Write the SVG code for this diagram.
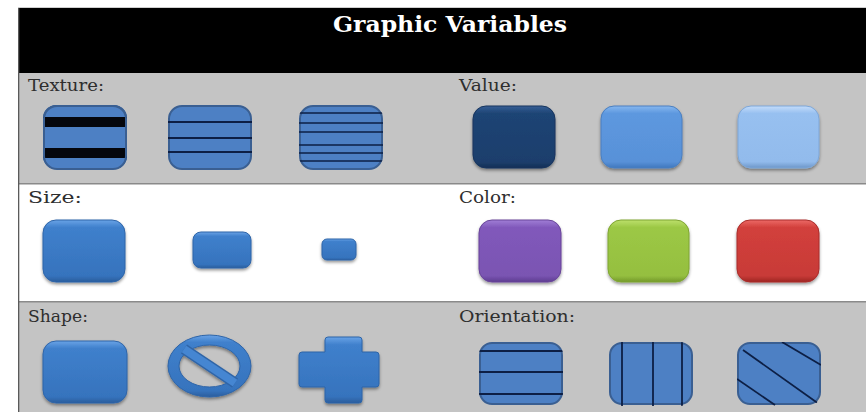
<svg xmlns="http://www.w3.org/2000/svg" width="866" height="412" viewBox="0 0 866 412">
<style>
.lbl{font-family:"DejaVu Serif","Liberation Serif",serif;font-size:17px;fill:#2e2e2e}
.title{font-family:"DejaVu Serif","Liberation Serif",serif;font-size:22px;font-weight:bold;fill:#ffffff}
.tex{fill:#4d80c4;stroke:#3a5f92;stroke-width:2}
.ln{stroke:#0d1f45;fill:none}
.sh{filter:url(#shadow)}
</style>
<defs>
<filter id="shadow" x="-20%" y="-20%" width="140%" height="150%">
<feDropShadow dx="0" dy="2" stdDeviation="1.8" flood-color="#000" flood-opacity="0.4"/>
</filter>
<linearGradient id="gBlue" x1="0" y1="0" x2="0" y2="1">
<stop offset="0" stop-color="#6aa3e6"/><stop offset="0.12" stop-color="#3f80cc"/><stop offset="0.9" stop-color="#3673bd"/><stop offset="1" stop-color="#2a5d9c"/>
</linearGradient>
<linearGradient id="gNavy" x1="0" y1="0" x2="0" y2="1">
<stop offset="0" stop-color="#345f96"/><stop offset="0.12" stop-color="#1f4474"/><stop offset="0.9" stop-color="#1c3e6c"/><stop offset="1" stop-color="#142f55"/>
</linearGradient>
<linearGradient id="gMid" x1="0" y1="0" x2="0" y2="1">
<stop offset="0" stop-color="#86b7ef"/><stop offset="0.12" stop-color="#5d98df"/><stop offset="0.9" stop-color="#5891d8"/><stop offset="1" stop-color="#3f77bd"/>
</linearGradient>
<linearGradient id="gLight" x1="0" y1="0" x2="0" y2="1">
<stop offset="0" stop-color="#c4dcfa"/><stop offset="0.12" stop-color="#97c0f0"/><stop offset="0.9" stop-color="#92bbec"/><stop offset="1" stop-color="#6c96c8"/>
</linearGradient>
<linearGradient id="gPurple" x1="0" y1="0" x2="0" y2="1">
<stop offset="0" stop-color="#a07ed6"/><stop offset="0.12" stop-color="#8159bb"/><stop offset="0.9" stop-color="#7a54b2"/><stop offset="1" stop-color="#5e3d90"/>
</linearGradient>
<linearGradient id="gGreen" x1="0" y1="0" x2="0" y2="1">
<stop offset="0" stop-color="#bde06c"/><stop offset="0.12" stop-color="#9cc845"/><stop offset="0.9" stop-color="#95bf40"/><stop offset="1" stop-color="#74992a"/>
</linearGradient>
<linearGradient id="gRed" x1="0" y1="0" x2="0" y2="1">
<stop offset="0" stop-color="#ec6a66"/><stop offset="0.12" stop-color="#d2403c"/><stop offset="0.9" stop-color="#c83a37"/><stop offset="1" stop-color="#9e2624"/>
</linearGradient>
<clipPath id="clipBox" clipPathUnits="userSpaceOnUse">
<rect x="0" y="0" width="84" height="64" rx="13"/>
</clipPath>
</defs>

<!-- backgrounds -->
<rect x="0" y="0" width="866" height="412" fill="#ffffff"/>
<rect x="18" y="7" width="848" height="1" fill="#cfcfcf"/>
<rect x="18" y="8" width="848" height="65" fill="#000000"/>
<rect x="18" y="73" width="848" height="110" fill="#c4c4c4"/>
<rect x="18" y="183" width="848" height="1.5" fill="#8a8a8a"/>
<rect x="18" y="302" width="848" height="110" fill="#c4c4c4"/>
<rect x="18" y="301" width="848" height="1.5" fill="#8a8a8a"/>
<rect x="18" y="8" width="1.3" height="404" fill="#5a5a5a"/>

<text class="title" x="450" y="32" text-anchor="middle" textLength="234" lengthAdjust="spacingAndGlyphs">Graphic Variables</text>

<!-- Texture -->
<g id="texture">
<text class="lbl" x="28" y="91" textLength="76" lengthAdjust="spacingAndGlyphs">Texture:</text>
<g id="texture-1" transform="translate(43,105)">
<g clip-path="url(#clipBox)">
<rect class="tex" x="0" y="0" width="84" height="65" rx="13"/>
<rect x="0" y="12" width="84" height="10" fill="#05070d"/>
<rect x="0" y="43" width="84" height="10" fill="#05070d"/>
</g>
<rect x="1" y="1" width="82" height="63" rx="13" fill="none" stroke="#3a5f92" stroke-width="2"/>
</g>
<g id="texture-2" transform="translate(168,105)">
<rect class="tex" x="1" y="1" width="82" height="63" rx="13"/>
<g clip-path="url(#clipBox)">
<line class="ln" x1="0" y1="17" x2="84" y2="17" stroke-width="2.2"/>
<line class="ln" x1="0" y1="33" x2="84" y2="33" stroke-width="2.2"/>
<line class="ln" x1="0" y1="47" x2="84" y2="47" stroke-width="2.2"/>
</g>
</g>
<g id="texture-3" transform="translate(299,105)">
<rect class="tex" x="1" y="1" width="82" height="63" rx="13"/>
<g clip-path="url(#clipBox)">
<line class="ln" x1="0" y1="8" x2="84" y2="8" stroke-width="1.6"/>
<line class="ln" x1="0" y1="18" x2="84" y2="18" stroke-width="1.6"/>
<line class="ln" x1="0" y1="27" x2="84" y2="27" stroke-width="1.6"/>
<line class="ln" x1="0" y1="40" x2="84" y2="40" stroke-width="1.6"/>
<line class="ln" x1="0" y1="48" x2="84" y2="48" stroke-width="1.6"/>
<line class="ln" x1="0" y1="56" x2="84" y2="56" stroke-width="1.6"/>
</g>
</g>
</g>

<!-- Value -->
<g id="value">
<text class="lbl" x="459" y="91" textLength="58" lengthAdjust="spacingAndGlyphs">Value:</text>
<rect id="value-1" class="sh" x="473" y="106" width="82" height="62" rx="13" fill="url(#gNavy)" stroke="#18355e" stroke-width="1"/>
<rect id="value-2" class="sh" x="601" y="106" width="81" height="62" rx="13" fill="url(#gMid)" stroke="#4a7fc0" stroke-width="1"/>
<rect id="value-3" class="sh" x="738" y="106" width="81" height="62" rx="13" fill="url(#gLight)" stroke="#7ea7d8" stroke-width="1"/>
</g>

<!-- Size -->
<g id="size">
<text class="lbl" x="28" y="203" textLength="54" lengthAdjust="spacingAndGlyphs">Size:</text>
<rect id="size-1" class="sh" x="43" y="220" width="82" height="62" rx="13" fill="url(#gBlue)" stroke="#2f65a8" stroke-width="1"/>
<rect id="size-2" class="sh" x="193" y="232" width="58" height="36" rx="8" fill="url(#gBlue)" stroke="#2f65a8" stroke-width="1"/>
<rect id="size-3" class="sh" x="322" y="239" width="34" height="21" rx="5" fill="url(#gBlue)" stroke="#2f65a8" stroke-width="1"/>
</g>

<!-- Color -->
<g id="color">
<text class="lbl" x="459" y="203" textLength="57" lengthAdjust="spacingAndGlyphs">Color:</text>
<rect id="color-1" class="sh" x="479" y="220" width="82" height="62" rx="13" fill="url(#gPurple)" stroke="#684599" stroke-width="1"/>
<rect id="color-2" class="sh" x="608" y="220" width="81" height="62" rx="13" fill="url(#gGreen)" stroke="#7fa532" stroke-width="1"/>
<rect id="color-3" class="sh" x="737" y="220" width="82" height="62" rx="13" fill="url(#gRed)" stroke="#a92d2a" stroke-width="1"/>
</g>

<!-- Shape -->
<g id="shape">
<text class="lbl" x="28" y="322" textLength="60" lengthAdjust="spacingAndGlyphs">Shape:</text>
<rect id="shape-1" class="sh" x="43" y="341" width="84" height="62" rx="13" fill="url(#gBlue)" stroke="#2f65a8" stroke-width="1"/>
<g id="shape-2" class="sh">
<path d="M209.5,335 A41.5,31 0 1,0 209.5,397 A41.5,31 0 1,0 209.5,335 Z M209.5,345 A30.5,21 0 1,1 209.5,387 A30.5,21 0 1,1 209.5,345 Z" fill="url(#gBlue)" fill-rule="evenodd" stroke="#2f65a8" stroke-width="1"/>
<line x1="184" y1="349" x2="235" y2="383" stroke="#2f65a8" stroke-width="11" stroke-linecap="butt"/>
<line x1="184" y1="349" x2="235" y2="383" stroke="#4586d2" stroke-width="8" stroke-linecap="butt"/>
</g>
<path id="shape-3" class="sh" d="M325,340 Q325,337 328,337 L359,337 Q362,337 362,340 L362,352 L376,352 Q379,352 379,355 L379,384 Q379,387 376,387 L362,387 L362,400 Q362,403 359,403 L328,403 Q325,403 325,400 L325,387 L302,387 Q299,387 299,384 L299,355 Q299,352 302,352 L325,352 Z" fill="url(#gBlue)" stroke="#2f65a8" stroke-width="1"/>
</g>

<!-- Orientation -->
<g id="orientation">
<text class="lbl" x="459" y="322" textLength="116" lengthAdjust="spacingAndGlyphs">Orientation:</text>
<g id="orientation-1" transform="translate(479,342)">
<rect class="tex" x="1" y="1" width="82" height="61" rx="12"/>
<g clip-path="url(#clipBox)">
<line class="ln" x1="0" y1="9" x2="84" y2="9" stroke-width="1.8"/>
<line class="ln" x1="0" y1="30" x2="84" y2="30" stroke-width="1.8"/>
<line class="ln" x1="0" y1="52" x2="84" y2="52" stroke-width="1.8"/>
</g>
</g>
<g id="orientation-2" transform="translate(609,342)">
<rect class="tex" x="1" y="1" width="82" height="61" rx="12"/>
<g clip-path="url(#clipBox)">
<line class="ln" x1="13" y1="0" x2="13" y2="64" stroke-width="1.8"/>
<line class="ln" x1="44" y1="0" x2="44" y2="64" stroke-width="1.8"/>
<line class="ln" x1="73" y1="0" x2="73" y2="64" stroke-width="1.8"/>
</g>
</g>
<g id="orientation-3" transform="translate(737,342)">
<rect class="tex" x="1" y="1" width="82" height="61" rx="12"/>
<g clip-path="url(#clipBox)">
<line class="ln" x1="45" y1="0" x2="84" y2="23" stroke-width="1.8"/>
<line class="ln" x1="6" y1="8" x2="82" y2="62" stroke-width="1.8"/>
<line class="ln" x1="0" y1="37" x2="38" y2="63" stroke-width="1.8"/>
</g>
</g>
</g>
</svg>
